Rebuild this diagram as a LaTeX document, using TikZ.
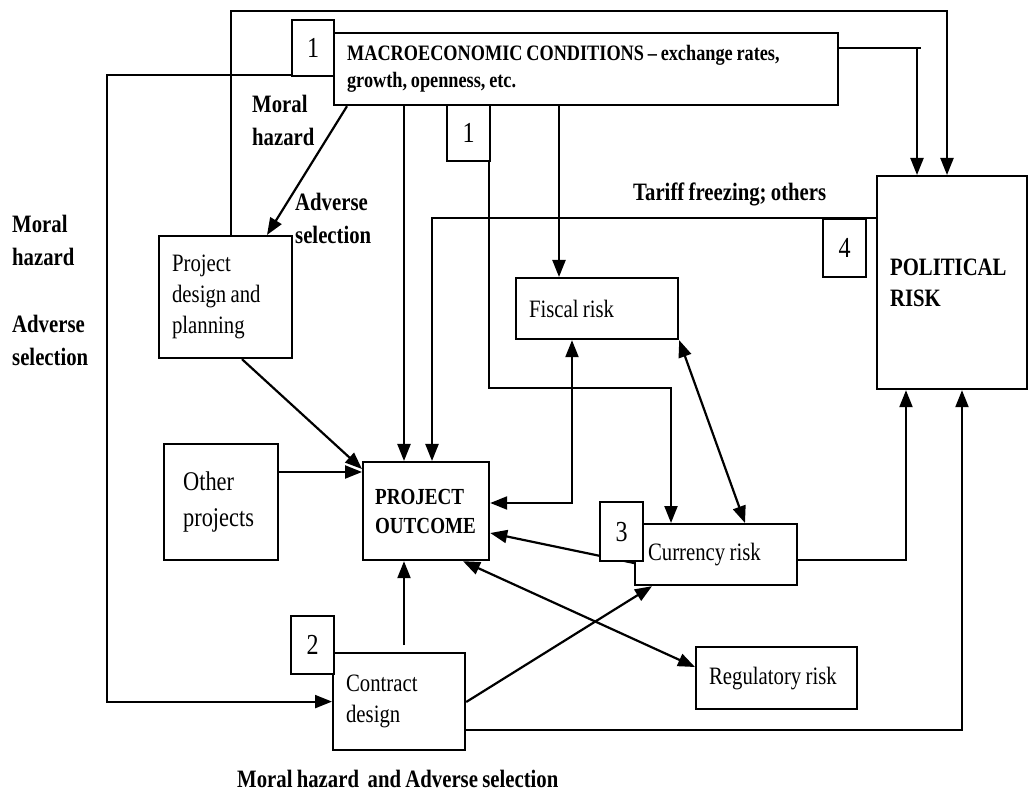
\documentclass[tikz,border=0pt]{standalone}
\usepackage{fontspec}
\setmainfont{Liberation Serif}[FakeStretch=0.83,WordSpace=0.83]
\usetikzlibrary{arrows.meta,positioning,calc}
\tikzset{
  box/.style={draw, line width=2.2pt, anchor=north west, align=flush left,
    inner xsep=13pt, inner ysep=0pt, font=\fontsize{25}{31}\selectfont},
  numbox/.style={draw, fill=white, line width=2.2pt, anchor=north west,
    inner sep=0pt, font=\fontsize{29}{29}\selectfont},
  lbl/.style={anchor=north west, align=left, inner sep=0pt,
    font=\bfseries\fontsize{25}{33}\selectfont},
  wire/.style={line width=2.2pt},
  arr/.style={line width=2.2pt, -{Triangle[length=17pt,width=13pt]}},
  arr2/.style={line width=2.2pt,
    {Triangle[length=17pt,width=13pt]}-{Triangle[length=17pt,width=13pt]}}
}
\begin{document}
\begin{tikzpicture}[x=1pt,y=-1pt]
    \fill[white] (0,0) rectangle (1029,794);
    \useasboundingbox (0,0) rectangle (1029,794);
    % boxes
    \node[box, minimum width=504pt, minimum height=72pt, text width=478pt,
      font=\bfseries\fontsize{22}{27}\selectfont] (macro) at (333,32)
      {MACROECONOMIC CONDITIONS -- exchange rates,\\growth, openness, etc.};
    \node[box, minimum width=133pt, minimum height=122pt, text width=107pt]
      (plan) at (158,235) {Project\\design and\\planning};
    \node[box, minimum width=162pt, minimum height=61pt, text width=136pt]
      (fiscal) at (515,277) {Fiscal risk};
    \node[box, minimum width=126pt, minimum height=98pt, text width=102pt,
      inner xsep=12pt, font=\bfseries\fontsize{23}{29}\selectfont]
      (outcome) at (362,461) {PROJECT\\OUTCOME};
    \node[box, minimum width=114pt, minimum height=116pt, text width=76pt,
      inner xsep=19pt, font=\fontsize{27}{36}\selectfont]
      (other) at (163,443) {Other\\projects};
    \node[box, minimum width=132pt, minimum height=97pt, text width=106pt]
      (contract) at (332,652) {Contract\\design};
    \node[box, minimum width=162pt, minimum height=61pt, text width=136pt]
      (currency) at (634,523) {Currency risk};
    \node[box, minimum width=161pt, minimum height=62pt, text width=135pt]
      (regul) at (695,646) {Regulatory risk};
    \node[box, minimum width=150pt, minimum height=213pt, text width=124pt,
      font=\bfseries\fontsize{25}{31}\selectfont]
      (polit) at (876,175) {POLITICAL\\RISK};

    % labels
    \node[lbl] (mhT) at (252,95) {Moral\\hazard};
    \node[lbl] (asT) at (295,193) {Adverse\\selection};
    \node[lbl] (mhL) at (12,215) {Moral\\hazard};
    \node[lbl, below=49pt of mhL.south west, anchor=north west] (asL) {Adverse\\selection};
    \node[lbl] (tariff) at (633,183) {Tariff freezing; others};
    \node[lbl] (mhB) at (237,770) {Moral hazard\ \ and Adverse selection};

    % helper points
    \coordinate (topL) at (231,11);
    \coordinate (topR) at (947,11);
    \coordinate (mr) at (917,48);
    \coordinate (ll) at (107,75);
    \coordinate (cb) at (671,388);
    \coordinate (oin) at ([yshift=-11pt]outcome.north west);

    % connectors
    \draw[arr] (plan.north -| topL) -- (topL) -- (topR) -- (topR |- polit.north);
    \draw[wire] (macro.east |- mr) -- ([xshift=4pt]mr);
    \draw[arr] (mr) -- (mr |- polit.north);
    \draw[arr] (macro.west |- ll) -- (ll) |- (contract.west);
    \draw[arr] ([xshift=14pt]macro.south west) -- ([xshift=109pt]plan.north west);
    \draw[arr] ([xshift=71pt]macro.south west) -- ([xshift=42pt]outcome.north west);
    \draw[arr] ([yshift=-43pt]polit.north west) -| ([xshift=70pt]outcome.north west);
    \draw[arr] ([xshift=226pt]macro.south west) -- ([xshift=44pt]fiscal.north west);
    \draw[arr] ([xshift=156pt]macro.south west) |- (cb) -- (cb |- currency.north);
    \draw[arr2] ([yshift=-42pt]outcome.north east) -| ([xshift=57pt]fiscal.south west);
    \draw[arr2] (fiscal.south east) -- ([xshift=111pt]currency.north west);
    \draw[arr] ([yshift=-40pt]currency.north west) -- ([yshift=-72pt]outcome.north east);
    \draw[arr2] ([xshift=101pt]outcome.south west) -- ([yshift=-21pt]regul.north west);
    \draw[arr] ([yshift=-50pt]contract.north east) -- ([xshift=18pt]currency.south west);
    \draw[arr] ([xshift=72pt,yshift=7pt]contract.north west) -- ([xshift=42pt]outcome.south west);
    \draw[arr] ([yshift=21pt]contract.south east) -| ([xshift=86pt]polit.south west);
    \draw[arr] ([yshift=-37pt]currency.north east) -| ([xshift=30pt]polit.south west);
    \draw[arr] ([xshift=84pt]plan.south west) -- ([yshift=3pt]oin);
    \draw[arr] (other.east |- oin) -- (oin);

    % numbered tags
    \node[numbox, minimum width=42pt, minimum height=56pt] (n1a) at (291,19) {1};
    \node[numbox, minimum width=43pt, minimum height=56pt] (n1b) at (446,104) {1};
    \node[numbox, minimum width=43pt, minimum height=58pt] (n2) at (290,615) {2};
    \node[numbox, minimum width=43pt, minimum height=59pt] (n3) at (599,501) {3};
    \node[numbox, minimum width=43pt, minimum height=58pt] (n4) at (822,218) {4};
\end{tikzpicture}
\end{document}
